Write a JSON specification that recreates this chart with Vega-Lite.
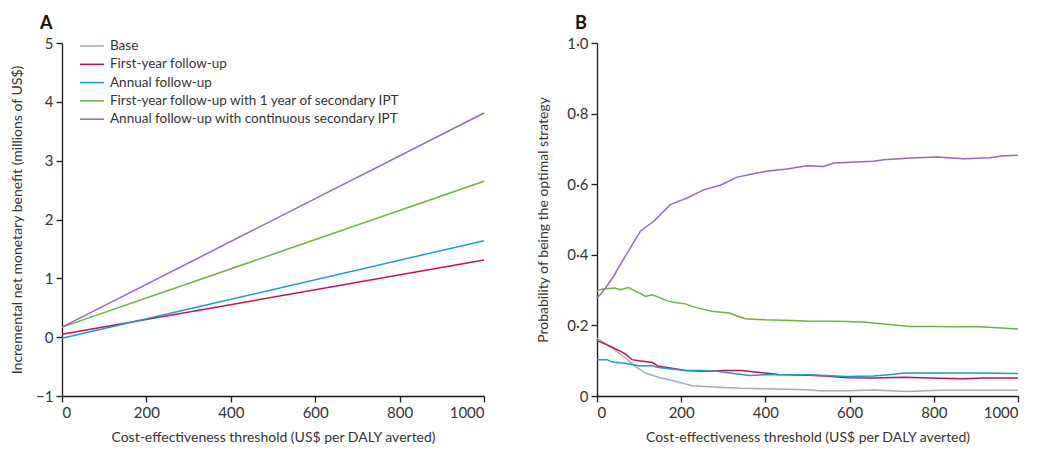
{
  "$schema": "https://vega.github.io/schema/vega-lite/v6.json",
  "background": "white",
  "padding": {"left": 10, "top": 15, "right": 5, "bottom": 2},
  "config": {
    "font": "Lato",
    "view": {"stroke": null},
    "axis": {
      "domainColor": "#1a1a1a",
      "tickColor": "#1a1a1a",
      "domainWidth": 1.3,
      "tickWidth": 1.3,
      "tickSize": 6,
      "labelPadding": 3,
      "labelFontSize": 15,
      "labelColor": "#333333",
      "titleFontSize": 14,
      "titleFontWeight": "normal",
      "titleColor": "#333333",
      "grid": false
    },
    "title": {"fontSize": 18, "fontWeight": "bold", "color": "#111111", "anchor": "start", "frame": "group"}
  },
  "datasets": {
    "a": [
      {"strategy": "First-year follow-up", "x": 0, "v": 0.05},
      {"strategy": "First-year follow-up", "x": 1000, "v": 1.31},
      {"strategy": "Annual follow-up", "x": 0, "v": -0.02},
      {"strategy": "Annual follow-up", "x": 1000, "v": 1.64},
      {"strategy": "First-year follow-up with 1 year of secondary IPT", "x": 0, "v": 0.17},
      {"strategy": "First-year follow-up with 1 year of secondary IPT", "x": 1000, "v": 2.65},
      {"strategy": "Annual follow-up with continuous secondary IPT", "x": 0, "v": 0.17},
      {"strategy": "Annual follow-up with continuous secondary IPT", "x": 1000, "v": 3.81}
    ],
    "b": [
      {"strategy": "Base", "x": 0, "p": 0.164},
      {"strategy": "Base", "x": 36, "p": 0.136},
      {"strategy": "Base", "x": 67, "p": 0.108},
      {"strategy": "Base", "x": 91, "p": 0.084},
      {"strategy": "Base", "x": 115, "p": 0.065},
      {"strategy": "Base", "x": 146, "p": 0.053},
      {"strategy": "Base", "x": 186, "p": 0.042},
      {"strategy": "Base", "x": 226, "p": 0.029},
      {"strategy": "Base", "x": 289, "p": 0.025},
      {"strategy": "Base", "x": 344, "p": 0.022},
      {"strategy": "Base", "x": 423, "p": 0.02},
      {"strategy": "Base", "x": 499, "p": 0.018},
      {"strategy": "Base", "x": 530, "p": 0.015},
      {"strategy": "Base", "x": 594, "p": 0.015},
      {"strategy": "Base", "x": 657, "p": 0.017},
      {"strategy": "Base", "x": 737, "p": 0.013},
      {"strategy": "Base", "x": 815, "p": 0.016},
      {"strategy": "Base", "x": 1000, "p": 0.016},
      {"strategy": "First-year follow-up", "x": 0, "p": 0.157},
      {"strategy": "First-year follow-up", "x": 20, "p": 0.147},
      {"strategy": "First-year follow-up", "x": 36, "p": 0.138},
      {"strategy": "First-year follow-up", "x": 55, "p": 0.127},
      {"strategy": "First-year follow-up", "x": 67, "p": 0.119},
      {"strategy": "First-year follow-up", "x": 83, "p": 0.103},
      {"strategy": "First-year follow-up", "x": 100, "p": 0.1},
      {"strategy": "First-year follow-up", "x": 114, "p": 0.098},
      {"strategy": "First-year follow-up", "x": 131, "p": 0.095},
      {"strategy": "First-year follow-up", "x": 146, "p": 0.084},
      {"strategy": "First-year follow-up", "x": 170, "p": 0.08},
      {"strategy": "First-year follow-up", "x": 210, "p": 0.072},
      {"strategy": "First-year follow-up", "x": 249, "p": 0.07},
      {"strategy": "First-year follow-up", "x": 304, "p": 0.072},
      {"strategy": "First-year follow-up", "x": 344, "p": 0.072},
      {"strategy": "First-year follow-up", "x": 399, "p": 0.065},
      {"strategy": "First-year follow-up", "x": 431, "p": 0.061},
      {"strategy": "First-year follow-up", "x": 503, "p": 0.059},
      {"strategy": "First-year follow-up", "x": 550, "p": 0.056},
      {"strategy": "First-year follow-up", "x": 594, "p": 0.052},
      {"strategy": "First-year follow-up", "x": 657, "p": 0.051},
      {"strategy": "First-year follow-up", "x": 729, "p": 0.053},
      {"strategy": "First-year follow-up", "x": 815, "p": 0.05},
      {"strategy": "First-year follow-up", "x": 870, "p": 0.049},
      {"strategy": "First-year follow-up", "x": 920, "p": 0.051},
      {"strategy": "First-year follow-up", "x": 1000, "p": 0.051},
      {"strategy": "Annual follow-up", "x": 0, "p": 0.103},
      {"strategy": "Annual follow-up", "x": 24, "p": 0.103},
      {"strategy": "Annual follow-up", "x": 36, "p": 0.096},
      {"strategy": "Annual follow-up", "x": 67, "p": 0.093},
      {"strategy": "Annual follow-up", "x": 99, "p": 0.086},
      {"strategy": "Annual follow-up", "x": 131, "p": 0.086},
      {"strategy": "Annual follow-up", "x": 146, "p": 0.081},
      {"strategy": "Annual follow-up", "x": 210, "p": 0.072},
      {"strategy": "Annual follow-up", "x": 249, "p": 0.072},
      {"strategy": "Annual follow-up", "x": 285, "p": 0.07},
      {"strategy": "Annual follow-up", "x": 333, "p": 0.062},
      {"strategy": "Annual follow-up", "x": 364, "p": 0.058},
      {"strategy": "Annual follow-up", "x": 399, "p": 0.06},
      {"strategy": "Annual follow-up", "x": 503, "p": 0.06},
      {"strategy": "Annual follow-up", "x": 594, "p": 0.055},
      {"strategy": "Annual follow-up", "x": 657, "p": 0.057},
      {"strategy": "Annual follow-up", "x": 700, "p": 0.061},
      {"strategy": "Annual follow-up", "x": 729, "p": 0.065},
      {"strategy": "Annual follow-up", "x": 815, "p": 0.065},
      {"strategy": "Annual follow-up", "x": 900, "p": 0.065},
      {"strategy": "Annual follow-up", "x": 1000, "p": 0.064},
      {"strategy": "First-year follow-up with 1 year of secondary IPT", "x": 0, "p": 0.297},
      {"strategy": "First-year follow-up with 1 year of secondary IPT", "x": 10, "p": 0.302},
      {"strategy": "First-year follow-up with 1 year of secondary IPT", "x": 20, "p": 0.304},
      {"strategy": "First-year follow-up with 1 year of secondary IPT", "x": 43, "p": 0.306},
      {"strategy": "First-year follow-up with 1 year of secondary IPT", "x": 55, "p": 0.301},
      {"strategy": "First-year follow-up with 1 year of secondary IPT", "x": 75, "p": 0.307},
      {"strategy": "First-year follow-up with 1 year of secondary IPT", "x": 91, "p": 0.297},
      {"strategy": "First-year follow-up with 1 year of secondary IPT", "x": 105, "p": 0.29},
      {"strategy": "First-year follow-up with 1 year of secondary IPT", "x": 115, "p": 0.282},
      {"strategy": "First-year follow-up with 1 year of secondary IPT", "x": 131, "p": 0.287},
      {"strategy": "First-year follow-up with 1 year of secondary IPT", "x": 146, "p": 0.28},
      {"strategy": "First-year follow-up with 1 year of secondary IPT", "x": 170, "p": 0.268},
      {"strategy": "First-year follow-up with 1 year of secondary IPT", "x": 190, "p": 0.264},
      {"strategy": "First-year follow-up with 1 year of secondary IPT", "x": 210, "p": 0.261},
      {"strategy": "First-year follow-up with 1 year of secondary IPT", "x": 233, "p": 0.251},
      {"strategy": "First-year follow-up with 1 year of secondary IPT", "x": 273, "p": 0.24},
      {"strategy": "First-year follow-up with 1 year of secondary IPT", "x": 313, "p": 0.235},
      {"strategy": "First-year follow-up with 1 year of secondary IPT", "x": 352, "p": 0.219},
      {"strategy": "First-year follow-up with 1 year of secondary IPT", "x": 400, "p": 0.216},
      {"strategy": "First-year follow-up with 1 year of secondary IPT", "x": 463, "p": 0.214},
      {"strategy": "First-year follow-up with 1 year of secondary IPT", "x": 503, "p": 0.212},
      {"strategy": "First-year follow-up with 1 year of secondary IPT", "x": 550, "p": 0.212},
      {"strategy": "First-year follow-up with 1 year of secondary IPT", "x": 594, "p": 0.211},
      {"strategy": "First-year follow-up with 1 year of secondary IPT", "x": 640, "p": 0.209},
      {"strategy": "First-year follow-up with 1 year of secondary IPT", "x": 681, "p": 0.204},
      {"strategy": "First-year follow-up with 1 year of secondary IPT", "x": 744, "p": 0.197},
      {"strategy": "First-year follow-up with 1 year of secondary IPT", "x": 800, "p": 0.197},
      {"strategy": "First-year follow-up with 1 year of secondary IPT", "x": 850, "p": 0.196},
      {"strategy": "First-year follow-up with 1 year of secondary IPT", "x": 900, "p": 0.197},
      {"strategy": "First-year follow-up with 1 year of secondary IPT", "x": 950, "p": 0.193},
      {"strategy": "First-year follow-up with 1 year of secondary IPT", "x": 1000, "p": 0.19},
      {"strategy": "Annual follow-up with continuous secondary IPT", "x": 0, "p": 0.278},
      {"strategy": "Annual follow-up with continuous secondary IPT", "x": 10, "p": 0.29},
      {"strategy": "Annual follow-up with continuous secondary IPT", "x": 20, "p": 0.306},
      {"strategy": "Annual follow-up with continuous secondary IPT", "x": 40, "p": 0.34},
      {"strategy": "Annual follow-up with continuous secondary IPT", "x": 55, "p": 0.372},
      {"strategy": "Annual follow-up with continuous secondary IPT", "x": 79, "p": 0.419},
      {"strategy": "Annual follow-up with continuous secondary IPT", "x": 103, "p": 0.467},
      {"strategy": "Annual follow-up with continuous secondary IPT", "x": 135, "p": 0.495},
      {"strategy": "Annual follow-up with continuous secondary IPT", "x": 174, "p": 0.542},
      {"strategy": "Annual follow-up with continuous secondary IPT", "x": 214, "p": 0.561},
      {"strategy": "Annual follow-up with continuous secondary IPT", "x": 253, "p": 0.584},
      {"strategy": "Annual follow-up with continuous secondary IPT", "x": 293, "p": 0.597},
      {"strategy": "Annual follow-up with continuous secondary IPT", "x": 333, "p": 0.62},
      {"strategy": "Annual follow-up with continuous secondary IPT", "x": 380, "p": 0.632},
      {"strategy": "Annual follow-up with continuous secondary IPT", "x": 412, "p": 0.638},
      {"strategy": "Annual follow-up with continuous secondary IPT", "x": 451, "p": 0.643},
      {"strategy": "Annual follow-up with continuous secondary IPT", "x": 499, "p": 0.652},
      {"strategy": "Annual follow-up with continuous secondary IPT", "x": 538, "p": 0.65},
      {"strategy": "Annual follow-up with continuous secondary IPT", "x": 562, "p": 0.66},
      {"strategy": "Annual follow-up with continuous secondary IPT", "x": 657, "p": 0.665},
      {"strategy": "Annual follow-up with continuous secondary IPT", "x": 681, "p": 0.669},
      {"strategy": "Annual follow-up with continuous secondary IPT", "x": 744, "p": 0.674},
      {"strategy": "Annual follow-up with continuous secondary IPT", "x": 808, "p": 0.677},
      {"strategy": "Annual follow-up with continuous secondary IPT", "x": 871, "p": 0.672},
      {"strategy": "Annual follow-up with continuous secondary IPT", "x": 934, "p": 0.675},
      {"strategy": "Annual follow-up with continuous secondary IPT", "x": 960, "p": 0.68},
      {"strategy": "Annual follow-up with continuous secondary IPT", "x": 1000, "p": 0.682}
    ]
  },
  "spacing": 49,
  "resolve": {"scale": {"color": "independent"}},
  "hconcat": [
    {
      "width": 422,
      "height": 353,
      "title": {"text": "A", "dx": -22, "offset": 3},
      "layer": [
        {
          "mark": {"type": "rule", "color": "#4f6b7f", "strokeDash": [4, 3], "strokeWidth": 1.2},
          "encoding": {"y": {"datum": 0, "type": "quantitative", "scale": {"domain": [-1, 5], "nice": false}}}
        },
        {
          "data": {"name": "a"},
          "mark": {"type": "line", "strokeWidth": 1.5},
          "encoding": {
            "x": {"field": "x", "type": "quantitative", "scale": {"domain": [0, 1000], "nice": false},
                  "axis": {"values": [0, 200, 400, 600, 800, 1000], "title": "Cost-effectiveness threshold (US$ per DALY averted)", "titlePadding": 10, "format": "d"}},
            "y": {"field": "v", "type": "quantitative", "scale": {"domain": [-1, 5], "nice": false},
                  "axis": {"values": [-1, 0, 1, 2, 3, 4, 5], "format": "d", "title": "Incremental net monetary benefit (millions of US$)", "titlePadding": 13, "minExtent": 25, "maxExtent": 25}},
            "color": {
              "field": "strategy", "type": "nominal",
              "scale": {
                "domain": ["Base", "First-year follow-up", "Annual follow-up", "First-year follow-up with 1 year of secondary IPT", "Annual follow-up with continuous secondary IPT"],
                "range": ["#a3adb5", "#c2134a", "#1a9cc8", "#6ab43a", "#9568c0"]
              },
              "legend": {
                "title": null, "orient": "none", "legendX": 17, "legendY": -4,
                "symbolType": "M-1,0L3,0", "symbolSize": 144, "symbolStrokeWidth": 1.5,
                "labelFontSize": 13.5, "labelColor": "#333333", "rowPadding": 4.3, "labelOffset": 17, "labelLimit": 0
              }
            },
            "detail": {"field": "strategy"}
          }
        }
      ]
    },
    {
      "width": 421,
      "height": 353,
      "title": {"text": "B", "dx": -22, "offset": 3},
      "data": {"name": "b"},
      "mark": {"type": "line", "strokeWidth": 1.5},
      "encoding": {
        "x": {"field": "x", "type": "quantitative", "scale": {"domain": [0, 1000], "nice": false},
              "axis": {"values": [0, 200, 400, 600, 800, 1000], "title": "Cost-effectiveness threshold (US$ per DALY averted)", "titlePadding": 10, "format": "d"}},
        "y": {"field": "p", "type": "quantitative", "scale": {"domain": [0, 1], "nice": false},
              "axis": {"values": [0, 0.2, 0.4, 0.6, 0.8, 1], "title": "Probability of being the optimal strategy", "titlePadding": 16, "minExtent": 31, "maxExtent": 31,
                       "labelExpr": "datum.value == 0 ? '0' : replace(format(datum.value, '.1f'), '.', '·')"}},
        "color": {
          "field": "strategy", "type": "nominal",
          "scale": {
            "domain": ["Base", "First-year follow-up", "Annual follow-up", "First-year follow-up with 1 year of secondary IPT", "Annual follow-up with continuous secondary IPT"],
            "range": ["#a3adb5", "#c2134a", "#1a9cc8", "#6ab43a", "#9568c0"]
          },
          "legend": null
        }
      }
    }
  ]
}
